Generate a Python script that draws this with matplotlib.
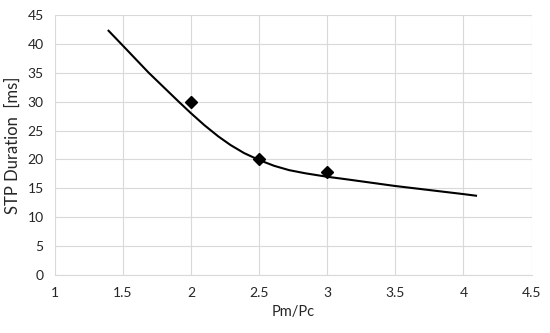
import matplotlib
matplotlib.use("Agg")
import matplotlib.pyplot as plt

# curve
curve_x = [1.39, 1.5, 1.69, 1.8, 1.91, 2.0, 2.1, 2.2, 2.29, 2.39, 2.5, 2.61, 2.72,
           2.84, 3.0, 3.13, 3.5, 4.0, 4.1]
curve_y = [42.4, 39.7, 35.0, 32.5, 30.0, 28.0, 25.9, 24.0, 22.5, 21.1, 19.9, 18.9, 18.15,
           17.6, 17.0, 16.6, 15.4, 14.0, 13.7]

# measured points
pts_x = [2.0, 2.5, 3.0]
pts_y = [30.0, 20.0, 17.8]

x_ticks = [1, 1.5, 2, 2.5, 3, 3.5, 4, 4.5]
y_ticks = list(range(0, 50, 5))

plt.rcParams.update({"font.family": ["Lato", "DejaVu Sans"], "font.size": 10})

fig = plt.figure(figsize=(5.5, 3.33), dpi=100)
ax = fig.add_axes([0.0995, 0.1742, 0.8669, 0.7808])

ax.plot(curve_x, curve_y, color="black", lw=1.5, solid_capstyle="butt",
        solid_joinstyle="round", zorder=3)
ax.plot(pts_x, pts_y, ls="none", marker="D", ms=6, color="black", zorder=4)

ax.set_xlim(1, 4.5)
ax.set_ylim(0, 45)
ax.set_xticks(x_ticks)
ax.set_xticklabels([f"{t:g}" for t in x_ticks])
ax.set_yticks(y_ticks)
ax.grid(True, color="#d9d9d9", lw=0.8)
ax.set_axisbelow(True)
for s in ("top", "right", "left"):
    ax.spines[s].set_visible(False)
ax.spines["bottom"].set_color("#d9d9d9")
ax.spines["bottom"].set_linewidth(0.8)
ax.tick_params(length=0, pad=9, colors="#262626", labelsize=10)
ax.tick_params(axis="y", pad=8)

ax.set_xlabel("Pm/Pc", fontsize=10.5, color="#262626", labelpad=4)
ax.set_ylabel("STP Duration  [ms]", fontsize=12, color="#262626", labelpad=5)

fig.savefig("out.png", dpi=100)
